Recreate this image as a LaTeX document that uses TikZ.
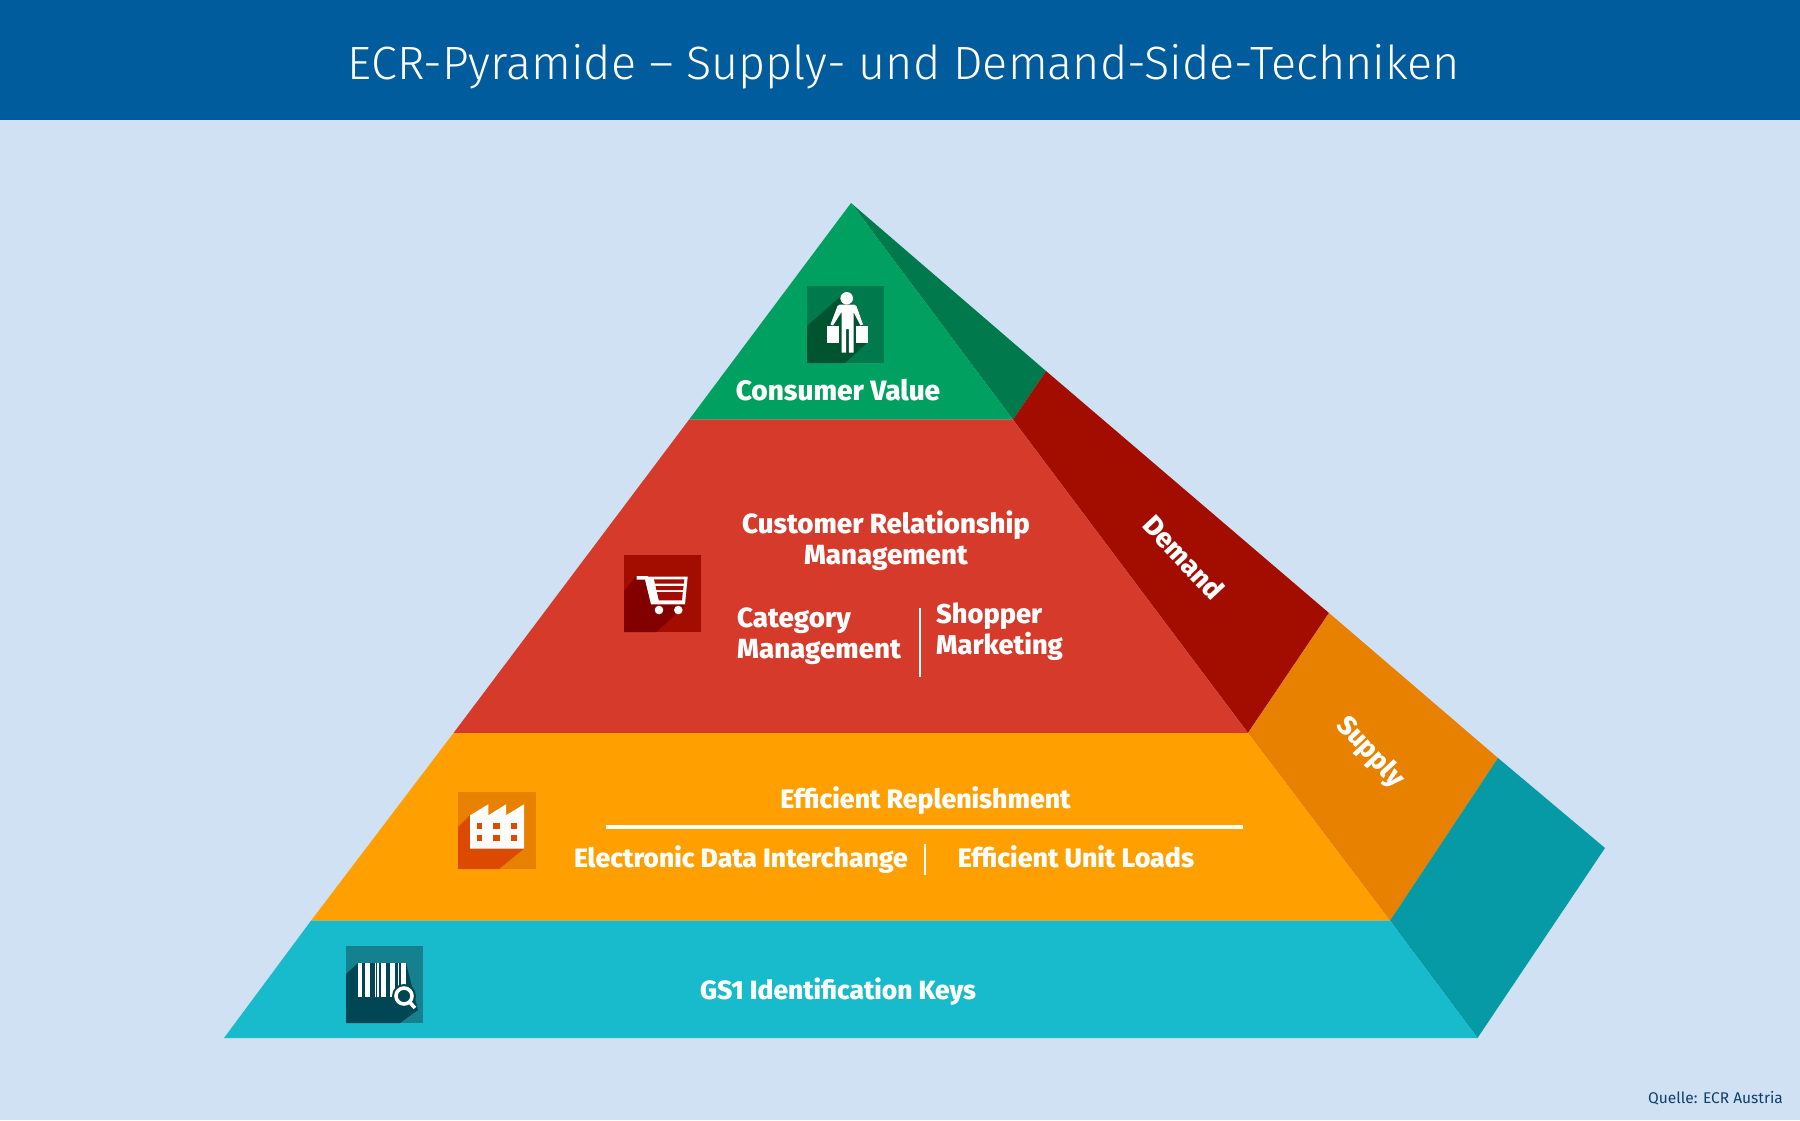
\documentclass[tikz,border=0pt]{standalone}
\usepackage{fontspec}
\setmainfont{Fira Sans}
\newfontfamily\heavyfont{Fira Sans ExtraBold}
\newfontfamily\lightfont{Fira Sans Light}
\definecolor{hdr}{HTML}{005C9C}
\definecolor{bg}{HTML}{D0E1F3}
\definecolor{grn}{HTML}{00A160}
\definecolor{grnD}{HTML}{007A4C}
\definecolor{grnS}{HTML}{00532F}
\definecolor{rd}{HTML}{D63A2A}
\definecolor{rdD}{HTML}{A30D00}
\definecolor{rdS}{HTML}{820000}
\definecolor{org}{HTML}{FFA000}
\definecolor{orgD}{HTML}{E88000}
\definecolor{orgS}{HTML}{DC4A00}
\definecolor{tl}{HTML}{18BBCB}
\definecolor{tlD}{HTML}{069AA6}
\definecolor{tlB}{HTML}{15808E}
\definecolor{tlS}{HTML}{004655}
\definecolor{qt}{HTML}{0F3F6B}
\tikzset{
  lbl/.style={text=white,font=\fontsize{#1}{31}\selectfont\heavyfont,inner sep=0pt,align=center},
  lblL/.style={lbl=#1,align=left,anchor=west},
  whiteline/.style={draw=white,line width=2pt}
}
\begin{document}
\begin{tikzpicture}[x=1pt,y=-1pt]
\useasboundingbox (0,0) rectangle (1800,1120);
\fill[bg] (0,0) rectangle (1800,1120);
\fill[hdr] (0,0) rectangle (1800,120);
\node[text=white,inner sep=0pt,font=\fontsize{46.7}{50}\selectfont\lightfont] (title) at (904,67) {ECR-Pyramide – Supply- und Demand-Side-Techniken};
% side faces
\fill[grnD] (851,203) -- (1046,371) -- (1013,419.7) -- cycle;
\fill[rdD] (1046,371) -- (1329,613) -- (1248,733) -- (1013,419.7) -- cycle;
\fill[orgD] (1329,613) -- (1498,758) -- (1390,920.7) -- (1248,733) -- cycle;
\fill[tlD] (1498,758) -- (1605,848) -- (1477.5,1038) -- (1390,920.7) -- cycle;
% front faces
\fill[grn] (851,203) -- (1013,419.7) -- (689,419.7) -- cycle;
\fill[rd] (689,419.7) -- (1013,419.7) -- (1248,733) -- (453.5,733) -- cycle;
\fill[org] (453.5,733) -- (1248,733) -- (1390,920.7) -- (311,920.7) -- cycle;
\fill[tl] (311,920.7) -- (1390,920.7) -- (1477.5,1038) -- (224,1038) -- cycle;
% person icon
\begin{scope}[shift={(807,286)}]
\fill[grnD] (0,0) rectangle (77,77);
\fill[grnS] (0,40) -- (33,11) -- (50,20) -- (61,56) -- (38,77) -- (0,77) -- cycle;
\fill[white] (39.7,12.3) circle (6.3);
\fill[white] (33,18.5) -- (47,18.5) -- (49.5,20) -- (56,38.5) -- (53.5,39.5) -- (46.5,26) -- (46.5,66.5) -- (41.8,66.5) -- (41.8,43) -- (39,43) -- (39,66.5) -- (34.5,66.5) -- (34.5,26) -- (26,39.5) -- (23.5,38.5) -- (30.5,20) -- cycle;
\fill[white] (20,40) rectangle (32.3,56.7);
\fill[white] (49.3,40) rectangle (61.3,56.7);
\draw[white,line width=1pt] (23,40) arc (180:0:2.2);
\draw[white,line width=1pt] (52.5,40) arc (180:0:2.2);
\end{scope}
% cart icon
\begin{scope}[shift={(624,555)}]
\fill[rdD] (0,0) rectangle (77,77);
\fill[rdS] (0,36) -- (12.7,21) -- (62,22) -- (61,50) -- (32.7,77) -- (0,77) -- cycle;
\fill[white] (12.7,21) -- (23,21) -- (24.5,21.7) -- (63.7,21.7) -- (61,49.3) -- (27,49.3) -- (21,24.5) -- (12.7,24.5) -- cycle;
\fill[rdD] (30,24.3) -- (60.3,24.3) -- (59.8,28.7) -- (31,28.7) -- cycle;
\fill[rdD] (31.5,31) -- (59.5,31) -- (59.1,35) -- (32.4,35) -- cycle;
\fill[rdD] (32.9,37) -- (58.8,37) -- (58,45.3) -- (34.8,45.3) -- cycle;
\fill[white] (35,55) circle (4.3);
\fill[white] (54.3,55) circle (4.3);
\end{scope}
% factory icon
\begin{scope}[shift={(458,792)}]
\fill[orgD] (0,0) rectangle (78,77);
\fill[orgS] (0,35) -- (12,23) -- (66,23) -- (66,56.7) -- (41,77) -- (0,77) -- cycle;
\fill[white] (12,23.3) -- (30.3,12.3) -- (30.3,23.3) -- (48,12.3) -- (48,23.3) -- (66,12.3) -- (66,56.7) -- (12,56.7) -- cycle;
\foreach \xa/\xb in {19/24,35/42,53/59}
  \foreach \ya/\yb in {31/37,43/49}
    \fill[orgS] (\xa,\ya) rectangle (\xb,\yb);
\end{scope}
% barcode icon
\begin{scope}[shift={(346,946)}]
\fill[tlB] (0,0) rectangle (77,77);
\fill[tlS] (0,28) -- (12,17) -- (60,17) -- (72,64) -- (54,77) -- (0,77) -- cycle;
\foreach \xa/\xb in {12/16,19/24,29.3/30.3,31.3/33.3,35/39.7,44/49,52.3/53.3,55/60}
  \fill[white] (\xa,16.7) rectangle (\xb,51);
\fill[tlS] (58,50) circle (12);
\draw[white,line width=3.6pt] (58,50) circle (8);
\draw[white,line width=3.6pt] (63.5,56) -- (69,62);
\end{scope}
% labels
\node[lbl=28] (consumer) at (838,390) {Consumer Value};
\node[lbl=27.7] (crm) at (886,541) {Customer Relationship\\Management};
\node[lblL=27.7] (cat) at (737,636) {Category\\Management};
\node[lblL=27.2] (shop) at (936,632) {Shopper\\Marketing};
\draw[whiteline] (920,608) -- (920,677);
\node[lbl=26.7] (er) at (925.5,801) {Efficient Replenishment};
\draw[white,line width=3.4pt] (606,827) -- (1243,827);
\node[lbl=26.6] (edi) at (741,860) {Electronic Data Interchange};
\draw[whiteline] (925,844) -- (925,875);
\node[lbl=26.8] (eul) at (1076,856.5) {Efficient Unit Loads};
\node[lbl=26.4] (gs1) at (838,992) {GS1 Identification Keys};
\node[lbl=27.5,rotate=-47] (demand) at (1184,557) {Demand};
\node[lbl=27,rotate=-47] (supply) at (1370,752.5) {Supply};
\node[text=qt,inner sep=0pt,anchor=east,font=\fontsize{15.5}{18}\selectfont] (quelle) at (1783,1098) {Quelle: ECR Austria};
\end{tikzpicture}
\end{document}
